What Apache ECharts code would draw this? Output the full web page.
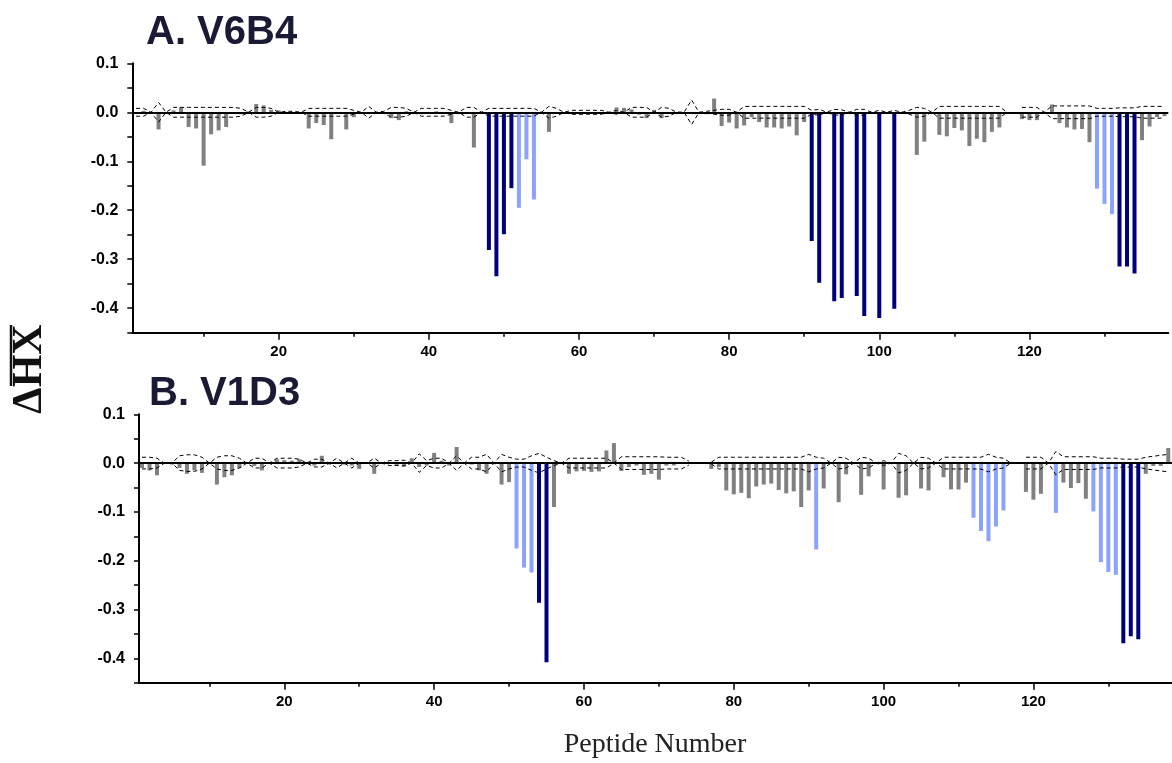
<!DOCTYPE html>
<html><head><meta charset="utf-8">
<script src="https://cdn.jsdelivr.net/npm/echarts@6/dist/echarts.min.js"></script>
<style>html,body{margin:0;padding:0;background:#fff}#c{width:1172px;height:763px}</style>
</head><body><div id="c"></div>
<script>
// Peptide numbers 1..138
const peptides = [];
for (let i = 1; i <= 138; i++) peptides.push(i);

// Panel A (V6B4) ΔHX values, peptide 1..138
const valuesA = [
 -0.002, 0.003, 0.0, -0.035, 0.0, 0.004, 0.01, -0.03, -0.033, -0.109,
 -0.045, -0.037, -0.03, -0.003, -0.004, 0.002, 0.017, 0.014, 0.005, 0.004,
 -0.002, -0.002, 0.0, -0.033, -0.022, -0.026, -0.055, -0.002, -0.035, -0.01,
 -0.002, 0.0, 0.0, 0.0, -0.012, -0.016, 0.002, 0.0, -0.004, -0.002,
 0.002, -0.003, -0.022, 0.0, -0.003, -0.072, -0.002, -0.281, -0.335, -0.249,
 -0.155, -0.195, -0.096, -0.178, 0.0, -0.04, 0.0, 0.0, -0.003, -0.002,
 -0.003, -0.002, -0.003, 0.0, 0.01, 0.009, 0.006, -0.005, -0.012, 0.005,
 -0.012, -0.003, -0.003, 0.0, 0.0, 0.0, -0.004, 0.028, -0.028, -0.021,
 -0.033, -0.027, -0.01, -0.02, -0.031, -0.031, -0.033, -0.029, -0.047, -0.02,
 -0.263, -0.348, -0.002, -0.386, -0.379, -0.002, -0.375, -0.416, -0.002, -0.42,
 -0.002, -0.401, 0.0, -0.003, -0.087, -0.06, 0.0, -0.046, -0.049, -0.032,
 -0.037, -0.069, -0.054, -0.061, -0.04, -0.031, 0.0, 0.0, -0.014, -0.016,
 -0.016, 0.0, 0.016, -0.022, -0.031, -0.035, -0.034, -0.061, -0.156, -0.187,
 -0.208, -0.315, -0.315, -0.329, -0.057, -0.029, -0.01, -0.008
];
// Panel B (V1D3) ΔHX values, peptide 1..138
const valuesB = [
 -0.01, -0.015, -0.025, 0.0, -0.003, -0.01, -0.022, -0.015, -0.02, 0.0,
 -0.044, -0.029, -0.025, -0.01, 0.0, -0.006, -0.015, 0.0, 0.008, 0.006,
 0.005, 0.008, 0.0, -0.005, 0.015, -0.003, 0.0, -0.003, -0.005, -0.012,
 0.0, -0.022, 0.0, -0.002, -0.005, -0.007, 0.01, -0.008, -0.005, 0.021,
 0.005, -0.005, 0.033, 0.0, -0.003, -0.015, -0.022, 0.0, -0.044, -0.039,
 -0.175, -0.214, -0.224, -0.286, -0.408, -0.09, 0.0, -0.022, -0.017, -0.016,
 -0.018, -0.017, 0.026, 0.041, -0.016, -0.008, -0.005, -0.024, -0.022, -0.034,
 -0.005, -0.005, 0.0, 0.0, 0.0, 0.0, -0.012, -0.008, -0.056, -0.064,
 -0.061, -0.072, -0.048, -0.044, -0.042, -0.055, -0.062, -0.058, -0.09, -0.056,
 -0.177, -0.052, 0.0, -0.08, -0.023, 0.0, -0.065, -0.027, 0.0, -0.054,
 0.0, -0.071, -0.066, 0.0, -0.052, -0.056, 0.0, -0.029, -0.054, -0.054,
 -0.04, -0.112, -0.139, -0.16, -0.13, -0.097, 0.0, 0.0, -0.059, -0.075,
 -0.063, 0.0, -0.102, -0.04, -0.051, -0.041, -0.073, -0.099, -0.203, -0.223,
 -0.229, -0.369, -0.355, -0.361, -0.022, -0.006, -0.006, 0.031
];
// Significance thresholds (half-width), peptide 1..138
const thrA = [
 0.008, 0.008, 0.0, 0.02, 0.0, 0.01, 0.01, 0.01, 0.01, 0.01,
 0.01, 0.01, 0.01, 0.01, 0.008, 0.0, 0.01, 0.01, 0.008, 0.0,
 0.002, 0.002, 0.0, 0.008, 0.008, 0.008, 0.008, 0.008, 0.008, 0.004,
 0.0, 0.012, 0.0, 0.002, 0.01, 0.01, 0.008, 0.0, 0.008, 0.008,
 0.008, 0.008, 0.004, 0.0, 0.01, 0.01, 0.0, 0.008, 0.008, 0.008,
 0.008, 0.008, 0.008, 0.008, 0.0, 0.012, 0.008, 0.0, 0.004, 0.004,
 0.004, 0.004, 0.004, 0.0, 0.004, 0.0, 0.01, 0.01, 0.01, 0.0,
 0.01, 0.008, 0.0, 0.0, 0.025, 0.0, 0.002, 0.004, 0.006, 0.006,
 0.0, 0.012, 0.012, 0.012, 0.012, 0.012, 0.012, 0.012, 0.012, 0.012,
 0.004, 0.006, 0.0, 0.006, 0.005, 0.0, 0.006, 0.006, 0.0, 0.004,
 0.0, 0.004, 0.0, 0.004, 0.01, 0.008, 0.0, 0.012, 0.012, 0.012,
 0.012, 0.012, 0.012, 0.012, 0.012, 0.012, 0.0, null, 0.01, 0.01,
 0.01, 0.0, 0.013, 0.013, 0.013, 0.013, 0.013, 0.013, 0.008, 0.008,
 0.008, 0.009, 0.009, 0.009, 0.012, 0.012, 0.012, 0.012
];
const thrB = [
 0.012, 0.012, 0.01, 0.0, 0.0, 0.015, 0.017, 0.017, 0.012, 0.0,
 0.012, 0.015, 0.015, 0.01, 0.0, 0.01, 0.01, 0.0, 0.01, 0.01,
 0.01, 0.008, 0.0, 0.008, 0.008, 0.0, 0.01, 0.0, 0.01, 0.0,
 0.0, 0.01, 0.0, 0.005, 0.005, 0.006, 0.0, 0.019, 0.005, 0.01,
 0.01, 0.0, 0.015, 0.0, 0.012, 0.012, 0.018, 0.0, 0.018, 0.012,
 0.008, 0.008, 0.015, 0.02, 0.012, 0.005, 0.0, 0.01, 0.01, 0.01,
 0.01, 0.01, 0.01, 0.0, 0.013, 0.013, 0.013, 0.013, 0.013, 0.013,
 0.012, 0.012, 0.012, 0.004, null, null, 0.002, 0.012, 0.012, 0.012,
 0.012, 0.012, 0.012, 0.012, 0.012, 0.012, 0.012, 0.012, 0.012, 0.018,
 0.012, 0.01, 0.0, 0.012, 0.01, 0.0, 0.012, 0.01, 0.0, 0.005,
 0.0, 0.02, 0.015, 0.0, 0.012, 0.01, 0.0, 0.012, 0.012, 0.012,
 0.012, 0.012, 0.012, 0.018, 0.012, 0.01, 0.0, null, 0.012, 0.012,
 0.012, 0.0, 0.024, 0.013, 0.013, 0.013, 0.013, 0.013, 0.01, 0.01,
 0.01, 0.008, 0.008, 0.008, 0.012, 0.014, 0.016, 0.018
];
// Peptides highlighted as strongly (dark) / moderately (light) significant
const darkA = [48, 49, 50, 51, 91, 92, 94, 95, 97, 98, 100, 102, 132, 133, 134];
const lightA = [52, 53, 54, 129, 130, 131];
const darkB = [54, 55, 132, 133, 134];
const lightB = [51, 52, 53, 91, 112, 113, 114, 115, 116, 123, 128, 129, 130, 131];

const xTickLabels = [20, 40, 60, 80, 100, 120];
const xMinorTicks = [10, 30, 50, 70, 90, 110, 130];
const titleA = 'A. V6B4';
const titleB = 'B. V1D3';
const xName = 'Peptide Number';

const GREY = '#808080', LIGHT = '#8ca2ff', DARK = '#00007f';

function barData(vals, dark, light) {
  return peptides.map((p, i) => ({
    value: [p, vals[i]],
    itemStyle: { color: dark.includes(p) ? DARK : (light.includes(p) ? LIGHT : GREY) }
  }));
}
function thrData(thr, sign) {
  return peptides.map((p, i) => [p, thr[i] === null ? null : sign * thr[i]]);
}
const labelFont = { fontFamily: '"Liberation Sans", Arial, sans-serif', fontWeight: 'bold', color: '#000' };

function yAxisCfg(gi) {
  return {
    gridIndex: gi, type: 'value', min: -0.45, max: 0.1, interval: 0.05,
    axisLine: { show: true, lineStyle: { color: '#000', width: 2 } },
    axisTick: { show: true, inside: false, length: 5, lineStyle: { color: '#000', width: 1.5 } },
    splitLine: { show: false },
    axisLabel: Object.assign({
      fontSize: 16, margin: 14,
      formatter: v => (Math.abs(Math.round(v * 10) - v * 10) < 1e-6) ? (Math.round(v * 10) / 10).toFixed(1) : ''
    }, labelFont)
  };
}
function xAxisMain(gi, min, max) {
  return {
    gridIndex: gi, type: 'value', min: min, max: max,
    axisLine: { show: true, onZero: false, lineStyle: { color: '#000', width: 2 } },
    axisTick: { show: true, length: 7, customValues: xTickLabels, lineStyle: { color: '#000', width: 1.5 } },
    splitLine: { show: false },
    axisLabel: Object.assign({ fontSize: 15, margin: 12, customValues: xTickLabels }, labelFont)
  };
}
function xAxisMinor(gi, min, max) {
  return {
    gridIndex: gi, type: 'value', min: min, max: max, position: 'bottom',
    axisLine: { show: false, onZero: false },
    axisTick: { show: true, length: 4, customValues: xMinorTicks, lineStyle: { color: '#000', width: 1.5 } },
    splitLine: { show: false },
    axisLabel: { show: false }
  };
}
function panelSeries(xi, yi, vals, thr, dark, light) {
  return [
    {
      type: 'bar', xAxisIndex: xi, yAxisIndex: yi, barWidth: 4, z: 2,
      data: barData(vals, dark, light), silent: true, animation: false,
      markLine: {
        silent: true, symbol: 'none', label: { show: false }, animation: false,
        lineStyle: { color: '#000', width: 2, type: 'solid' },
        data: [{ yAxis: 0 }]
      }
    },
    {
      type: 'line', xAxisIndex: xi, yAxisIndex: yi, z: 4, showSymbol: false, symbol: 'none',
      data: thrData(thr, 1), lineStyle: { color: '#000', width: 1, type: [4, 3] }, animation: false, silent: true
    },
    {
      type: 'line', xAxisIndex: xi, yAxisIndex: yi, z: 4, showSymbol: false, symbol: 'none',
      data: thrData(thr, -1), lineStyle: { color: '#000', width: 1, type: [4, 3] }, animation: false, silent: true
    }
  ];
}

const chart = echarts.init(document.getElementById('c'), null, { renderer: 'canvas' });
const titleStyle = { fontFamily: '"Liberation Sans", Arial, sans-serif', fontWeight: 'bold', fontSize: 40, color: '#1a1a35' };
chart.setOption({
  backgroundColor: '#fff',
  animation: false,
  title: [
    { text: titleA, left: 141, top: 8, textStyle: titleStyle },
    { text: titleB, left: 144, top: 369, textStyle: titleStyle }
  ],
  grid: [
    { left: 132.3, top: 63.3, width: 1036, height: 269.4 },
    { left: 139, top: 414.3, width: 1034.7, height: 268.4 }
  ],
  xAxis: [
    xAxisMain(0, 0.5, 138.5), xAxisMinor(0, 0.5, 138.5),
    xAxisMain(1, 0.6, 138.5), xAxisMinor(1, 0.6, 138.5)
  ],
  yAxis: [yAxisCfg(0), yAxisCfg(1)],
  series: [
    ...panelSeries(0, 0, valuesA, thrA, darkA, lightA),
    ...panelSeries(2, 1, valuesB, thrB, darkB, lightB)
  ],
  graphic: [
    {
      type: 'group', x: 30, y: 369, rotation: Math.PI / 2,
      children: [
        { type: 'text', style: { text: 'ΔHX', x: 0, y: 0, align: 'center', verticalAlign: 'middle',
          font: 'bold 42px "Liberation Serif", "Times New Roman", serif', fill: '#111' } },
        { type: 'line', shape: { x1: -17, y1: -19, x2: 44, y2: -19 }, style: { stroke: '#111', lineWidth: 2.5 } }
      ]
    },
    {
      type: 'text', x: 655, y: 745,
      style: { text: xName, align: 'center', verticalAlign: 'middle',
        font: '28px "Liberation Serif", "Times New Roman", serif', fill: '#222' }
    }
  ]
});
</script>
</body></html>
